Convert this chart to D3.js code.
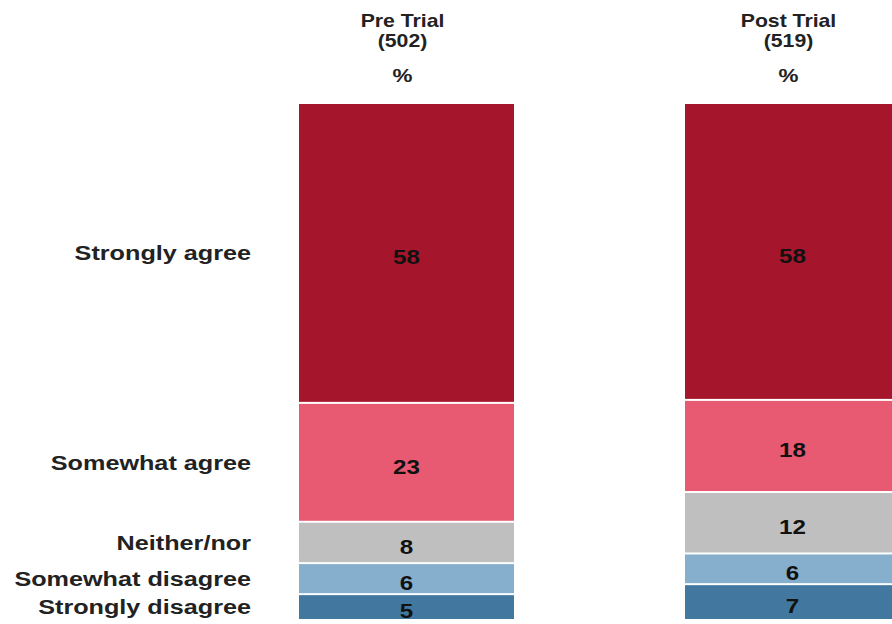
<!DOCTYPE html>
<html>
<head>
<meta charset="utf-8">
<script src="https://cdn.jsdelivr.net/npm/d3@7"></script>
<style>
  html, body { margin: 0; padding: 0; background: #fff; }
  svg { display: block; }
  text { font-family: "Liberation Sans", Arial, Helvetica, sans-serif; }
</style>
</head>
<body>
<svg id="chart" width="892" height="624"></svg>
<script>
// Survey waves and their base sizes
const waves = ["Pre Trial", "Post Trial"];
const bases = ["(502)", "(519)"];

// Answer scale, top of the bar to bottom
const answers = ["Strongly agree", "Somewhat agree", "Neither/nor", "Somewhat disagree", "Strongly disagree"];

// Percentages per wave, in answer order
const preTrial  = [58, 23, 8, 6, 5];
const postTrial = [58, 18, 12, 6, 7];

const colours = ["#a5162c", "#e75a72", "#bfbfbf", "#86afcd", "#42789f"];

const rows = waves.map((w, i) => {
  const vals = i === 0 ? preTrial : postTrial;
  const r = { wave: w };
  answers.forEach((a, j) => r[a] = vals[j]);
  return r;
});

const svg = d3.select("#chart");

const x = d3.scaleBand().domain(waves).range([299, 900]).paddingInner(0.443).paddingOuter(0);
const y = d3.scaleLinear().domain([0, 1]).range([103, 620]);
const colour = d3.scaleOrdinal().domain(answers).range(colours);

// Each column is stacked to its own total
const series = d3.stack().keys(answers).offset(d3.stackOffsetExpand)(rows);

// Wide-set lettering: glyphs are stretched horizontally
const place = (px, py, sx) => `translate(${px},${py}) scale(${sx},1)`;

const layer = svg.append("g")
  .selectAll("g")
  .data(series)
  .join("g")
  .attr("fill", d => colour(d.key));

layer.selectAll("rect")
  .data(d => d.map(p => Object.assign(p, { key: d.key })))
  .join("rect")
  .attr("x", p => x(p.data.wave))
  .attr("width", x.bandwidth())
  .attr("y", p => y(p[0]) + 1)
  .attr("height", p => Math.max(0, y(p[1]) - y(p[0]) - 2));

// Value inside each segment
layer.selectAll("text")
  .data(d => d)
  .join("text")
  .attr("transform", p => place(x(p.data.wave) + x.bandwidth() / 2, (y(p[0]) + y(p[1])) / 2 + 4, 1.15))
  .attr("dy", "0.35em")
  .attr("text-anchor", "middle")
  .attr("font-size", 21)
  .attr("font-weight", "bold")
  .attr("fill", "#111")
  .text(p => p.data[p.key]);

// Answer labels, aligned to the first column's segments
const first = series.map(s => s[0]);
svg.append("g")
  .selectAll("text")
  .data(first)
  .join("text")
  .attr("transform", p => place(251, (y(p[0]) + y(p[1])) / 2, 1.2))
  .attr("dy", "0.35em")
  .attr("text-anchor", "end")
  .attr("font-size", 21)
  .attr("font-weight", "bold")
  .attr("fill", "#222")
  .text(p => p.key);

// Column headers
const head = svg.append("g")
  .selectAll("g")
  .data(waves)
  .join("g")
  .attr("transform", w => place(x(w) + x.bandwidth() / 2 - 4, 0, 1.18))
  .attr("text-anchor", "middle")
  .attr("font-weight", "bold")
  .attr("fill", "#222");

head.append("text").attr("y", 27).attr("font-size", 18).text(w => w);
head.append("text").attr("y", 47).attr("font-size", 18).text((w, i) => bases[i]);
head.append("text").attr("y", 82).attr("font-size", 19).text("%");
</script>
</body>
</html>
